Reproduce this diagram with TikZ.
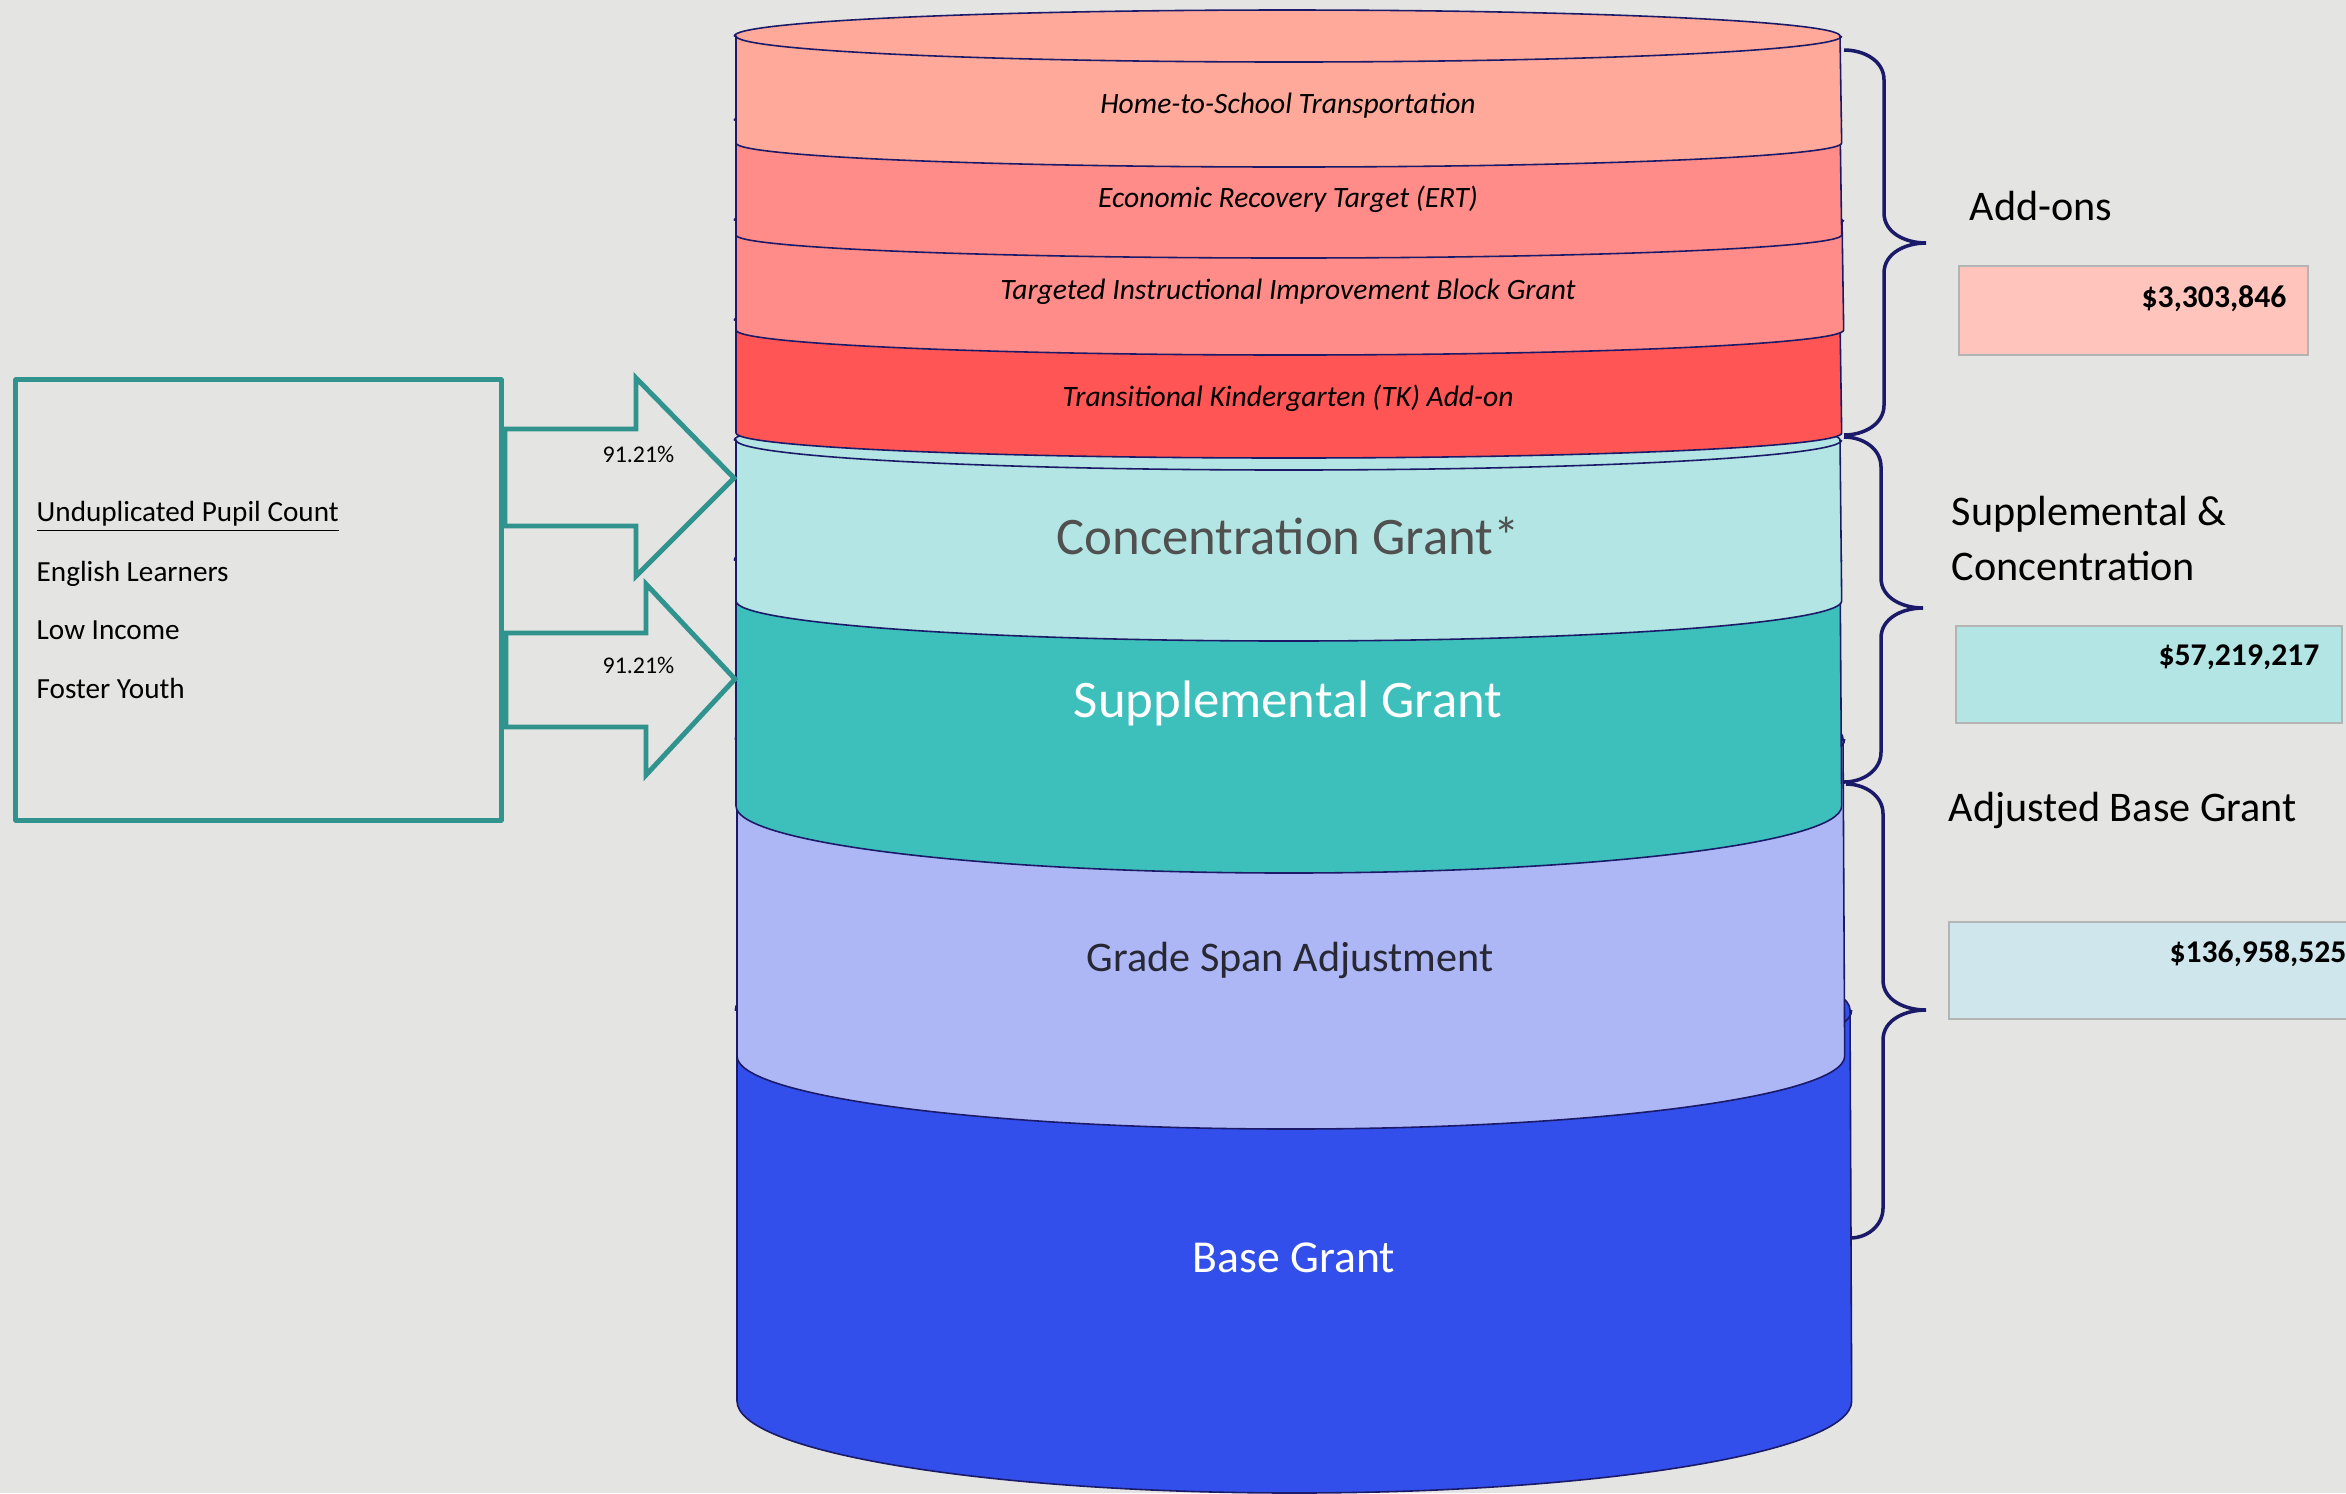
\documentclass[tikz,border=0pt]{standalone}
\usepackage{fontspec}
\setmainfont{Carlito}

\definecolor{bgcol}{RGB}{228,228,226}
\definecolor{navyline}{RGB}{26,26,104}
\definecolor{tealline}{RGB}{49,147,141}
\definecolor{htsfill}{RGB}{255,169,155}
\definecolor{ertfill}{RGB}{255,140,136}
\definecolor{tkfill}{RGB}{255,85,85}
\definecolor{concfill}{RGB}{178,229,227}
\definecolor{suppfill}{RGB}{61,192,187}
\definecolor{gsafill}{RGB}{173,183,246}
\definecolor{basefill}{RGB}{51,79,235}
\definecolor{addfill}{RGB}{255,196,188}
\definecolor{abgfill}{RGB}{206,230,236}
\definecolor{boxline}{RGB}{180,180,180}
\definecolor{conctext}{RGB}{80,80,80}
\definecolor{gsatext}{RGB}{40,40,52}

\tikzset{
  drum/.style={draw=navyline, line width=0.45pt, line join=round},
  addon/.style={font=\fontsize{8.4}{10}\selectfont\itshape, inner sep=0pt},
  grant/.style={inner sep=0pt},
  pupil/.style={draw=tealline, line width=1.4pt},
  pupilbox/.style={pupil, line join=round, minimum width=4.85cm, minimum height=4.4cm, inner sep=0pt},
  pupiltext/.style={font=\fontsize{8.3}{10}\selectfont, inner sep=0pt, anchor=base west},
  pct/.style={font=\fontsize{6.8}{8}\selectfont, inner sep=0pt, anchor=base west},
  brace/.style={draw=navyline, line width=1pt},
  sumlabel/.style={font=\fontsize{12}{14}\selectfont, inner sep=0pt, anchor=base west},
  valbox/.style={draw=boxline, line width=0.5pt, inner sep=0pt},
  value/.style={font=\fontsize{9}{11}\selectfont\bfseries, inner sep=0pt, anchor=base east},
}

% one slice of the drum: fill, left x, right x, top y, top depth, bottom y, bottom depth
\newcommand{\drum}[7]{%
  \filldraw[drum, fill=#1] (#2,#4) -- (#2,#6)
    arc[start angle=180, end angle=360, x radius={(#3-#2)*0.005cm}, y radius={#7*0.01cm}]
    -- (#3,#4)
    arc[start angle=0, end angle=180, x radius={(#3-#2)*0.005cm}, y radius={#5*0.01cm}]
    -- cycle;
  \draw[drum] (#2,#4)
    arc[start angle=180, end angle=360, x radius={(#3-#2)*0.005cm}, y radius={#5*0.01cm}];
}

\begin{document}
\begin{tikzpicture}[x=0.01cm,y=-0.01cm]
  \fill[bgcol] (0,0) rectangle (2346,1493);
  \useasboundingbox (0,0) rectangle (2346,1493);

  % drum, lowest slice first
  \drum{basefill}{737}{1850}{1010}{75}{1401}{92}
  \drum{gsafill}{737}{1843}{739}{67}{1056}{73}
  \drum{suppfill}{736}{1840}{560}{40}{806}{67}
  \drum{concfill}{736}{1840}{440}{30}{601}{40}
  \drum{tkfill}{736}{1840}{320}{25}{433}{25}
  \drum{ertfill}{736}{1842}{220}{24}{330}{25}
  \drum{ertfill}{736}{1840}{120}{24}{235}{23}
  \drum{htsfill}{736}{1840}{36}{26}{143}{24}

  \node[addon] (hts) at (1288,106) {Home-to-School Transportation};
  \node[addon] (ert) at (1288,199) {Economic Recovery Target (ERT)};
  \node[addon] (tiibg) at (1288,292) {Targeted Instructional Improvement Block Grant};
  \node[addon] (tk) at (1288,398) {Transitional Kindergarten (TK) Add-on};
  \node[grant, text=conctext, font=\fontsize{15}{18}\selectfont] (conc) at (1288,536) {Concentration Grant*};
  \node[grant, text=white, font=\fontsize{15}{18}\selectfont] (supp) at (1288,703) {Supplemental Grant};
  \node[grant, text=gsatext, font=\fontsize{12}{14}\selectfont] (gsa) at (1290,960) {Grade Span Adjustment};
  \node[grant, text=white, font=\fontsize{13}{16}\selectfont] (base) at (1294,1258) {Base Grant};

  % pupil counts and the two block arrows
  \node[pupilbox] (pupils) at (258.5,600) {};
  \node[pupiltext] (upc) at (36,521) {\underline{Unduplicated Pupil Count}};
  \node[pupiltext] (el) at (36,581) {English Learners};
  \node[pupiltext] (li) at (36,639) {Low Income};
  \node[pupiltext] (fy) at (36,698) {Foster Youth};

  \draw[pupil] (505,429) -- (636,429) -- (636,378) -- (734,478) -- (636,576) -- (636,526) -- (505,526) -- cycle;
  \draw[pupil] (506,633) -- (646,633) -- (646,584) -- (735,679) -- (646,775) -- (646,727) -- (506,727) -- cycle;
  \node[pct] (pctconc) at (602,462) {91.21\%};
  \node[pct] (pctsupp) at (602,673) {91.21\%};

  % braces
  \draw[brace] (1844,50) to[out=0,in=90] (1884,80) -- (1884,213) to[out=-90,in=180] (1926,243)
    to[out=180,in=90] (1884,273) -- (1884,405) to[out=-90,in=0] (1844,435);
  \draw[brace] (1844,437) to[out=0,in=90] (1881,467) -- (1881,578) to[out=-90,in=180] (1923,608)
    to[out=180,in=90] (1881,638) -- (1881,752) to[out=-90,in=0] (1844,782);
  \draw[brace] (1846,784) to[out=0,in=90] (1883,814) -- (1883,980) to[out=-90,in=180] (1926,1010)
    to[out=180,in=90] (1883,1040) -- (1883,1208) to[out=-90,in=0] (1850,1238);

  % totals
  \node[sumlabel] (addons) at (1969,220) {Add-ons};
  \node[valbox, fill=addfill, minimum width=3.49cm, minimum height=0.89cm] (addbox) at (2133.5,310.5) {};
  \node[value] (addval) at (2287,307) {\$3,303,846};

  \node[sumlabel] (sc1) at (1951,525) {Supplemental \&};
  \node[sumlabel] (sc2) at (1951,580) {Concentration};
  \node[valbox, fill=concfill, minimum width=3.86cm, minimum height=0.97cm] (scbox) at (2149,674.5) {};
  \node[value] (scval) at (2320,665) {\$57,219,217};

  \node[sumlabel] (abg) at (1948,821) {Adjusted Base Grant};
  \node[valbox, fill=abgfill, minimum width=4.4cm, minimum height=0.97cm] (abgbox) at (2169,970.5) {};
  \node[value] (abgval) at (2347,962) {\$136,958,525};
\end{tikzpicture}
\end{document}
